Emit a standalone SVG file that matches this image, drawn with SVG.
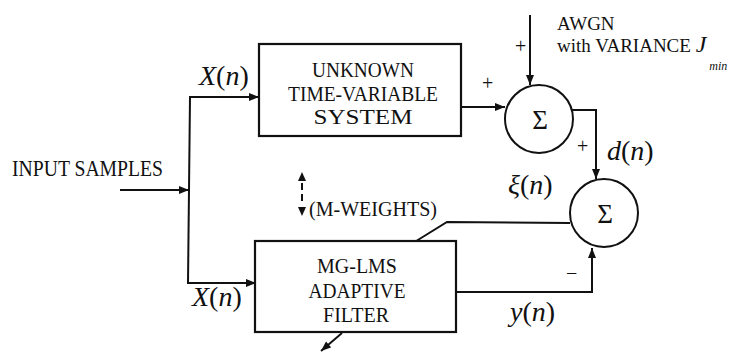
<svg xmlns="http://www.w3.org/2000/svg" width="745" height="352" viewBox="0 0 745 352">
  <defs>
    <marker id="arrow" viewBox="0 0 10 8" refX="10" refY="4" markerWidth="11" markerHeight="8" markerUnits="userSpaceOnUse" orient="auto">
      <path d="M0,0 L10,4 L0,8 Z" fill="#111"/>
    </marker>
  </defs>
  <style>
    .line { fill: none; stroke: #111; stroke-width: 2; }
    .box { fill: #fff; stroke: #111; stroke-width: 2.2; }
    .sum { fill: #fff; stroke: #111; stroke-width: 2; }
    .label { font-family: "Liberation Serif", "Times New Roman", serif; fill: #111; }
    .box-text { font-size: 21px; text-anchor: middle; }
    .math { font-size: 28px; }
    .sigma { font-size: 27px; text-anchor: middle; }
    .sign { font-size: 20px; }
  </style>
  <rect width="745" height="352" fill="#fff"/>

  <!-- connectors -->
  <g id="connectors">
    <!-- input split -->
    <path class="line" d="M120,190 L189,190" marker-end="url(#arrow)"/>
    <path class="line" d="M190,97 L188,283"/>
    <path class="line" d="M189,97 L259,97" marker-end="url(#arrow)"/>
    <path class="line" d="M187,283 L256,283" marker-end="url(#arrow)"/>
    <!-- unknown system to first summer -->
    <path class="line" d="M461,107 L505,107" marker-end="url(#arrow)"/>
    <!-- noise input -->
    <path class="line" d="M530,15 L530,85" marker-end="url(#arrow)"/>
    <!-- desired signal -->
    <path class="line" d="M572,110 L596,110 L596,179" marker-end="url(#arrow)"/>
    <!-- error fed back to adaptive filter -->
    <path class="line" d="M570,223 L447,222 L413,243"/>
    <!-- filter output -->
    <path class="line" d="M456,292 L592,292 L592,248" marker-end="url(#arrow)"/>
    <!-- weight output -->
    <path class="line" d="M342,333 L321,351" marker-end="url(#arrow)"/>
    <!-- weight update (dashed, both ways) -->
    <path class="line" d="M302,183 L302,205" stroke-dasharray="7,4" stroke-width="1.6"/>
    <path d="M302,172 L306,181 L298,181 Z" fill="#111"/>
    <path d="M302,216 L306,207 L298,207 Z" fill="#111"/>
  </g>

  <!-- unknown time-variable system -->
  <g id="unknown-system">
    <rect class="box" x="259" y="44" width="202" height="92"/>
    <text class="label box-text" x="363" y="77" textLength="102" lengthAdjust="spacingAndGlyphs">UNKNOWN</text>
    <text class="label box-text" x="363" y="100.5" textLength="150" lengthAdjust="spacingAndGlyphs">TIME-VARIABLE</text>
    <text class="label box-text" x="363" y="124" textLength="99" lengthAdjust="spacingAndGlyphs">SYSTEM</text>
  </g>

  <!-- MG-LMS adaptive filter -->
  <g id="adaptive-filter">
    <rect class="box" x="255" y="241" width="201" height="91"/>
    <text class="label box-text" x="357" y="273" textLength="80" lengthAdjust="spacingAndGlyphs">MG-LMS</text>
    <text class="label box-text" x="357" y="297.5" textLength="97" lengthAdjust="spacingAndGlyphs">ADAPTIVE</text>
    <text class="label box-text" x="356" y="322" textLength="66" lengthAdjust="spacingAndGlyphs">FILTER</text>
  </g>

  <!-- first summer: system output plus noise -->
  <g id="sum-noise">
    <circle class="sum" cx="539" cy="119" r="34"/>
    <text class="label sigma" x="540" y="129">Σ</text>
  </g>

  <!-- second summer: error -->
  <g id="sum-error">
    <circle class="sum" cx="604" cy="213" r="34"/>
    <text class="label sigma" x="605" y="223">Σ</text>
  </g>

  <!-- input label -->
  <g id="input">
    <text class="label" x="12" y="176" font-size="23" textLength="151" lengthAdjust="spacingAndGlyphs">INPUT SAMPLES</text>
  </g>

  <!-- noise source label -->
  <g id="awgn">
    <text class="label" x="557" y="30" font-size="19">AWGN</text>
    <text class="label" x="557" y="52" font-size="19">with VARIANCE <tspan font-style="italic" font-size="24">J</tspan><tspan font-style="italic" font-size="12" dx="3" dy="18">min</tspan></text>
  </g>

  <!-- weights label -->
  <g id="weights">
    <text class="label" x="309" y="216" font-size="20" textLength="128" lengthAdjust="spacingAndGlyphs">(M-WEIGHTS)</text>
  </g>

  <!-- signal labels -->
  <g id="signal-labels">
    <text class="label math" x="199" y="85"><tspan font-style="italic">X</tspan>(<tspan font-style="italic">n</tspan>)</text>
    <text class="label math" x="192" y="306"><tspan font-style="italic">X</tspan>(<tspan font-style="italic">n</tspan>)</text>
    <text class="label math" x="607" y="160"><tspan font-style="italic">d</tspan>(<tspan font-style="italic">n</tspan>)</text>
    <text class="label math" x="508" y="194"><tspan font-style="italic">ξ</tspan>(<tspan font-style="italic">n</tspan>)</text>
    <text class="label math" x="510" y="321"><tspan font-style="italic">y</tspan>(<tspan font-style="italic">n</tspan>)</text>
    <text class="label sign" x="482" y="90">+</text>
    <text class="label sign" x="515" y="53">+</text>
    <text class="label sign" x="577" y="153">+</text>
    <text class="label sign" x="566" y="280">−</text>
  </g>
</svg>
